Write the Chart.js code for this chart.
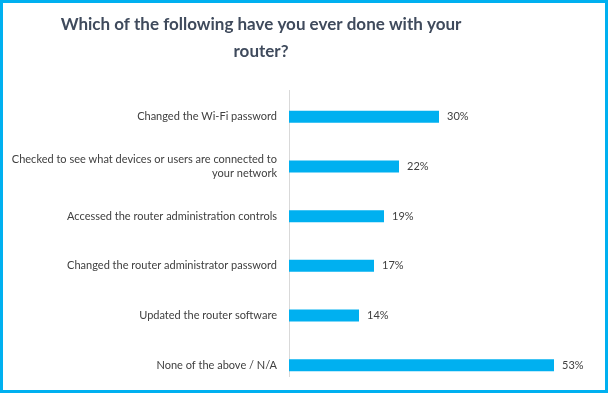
<!DOCTYPE html>
<html>
<head>
<meta charset="utf-8">
<script src="https://cdn.jsdelivr.net/npm/chart.js@4.4.0/dist/chart.umd.min.js"></script>
<style>
  html, body { margin: 0; padding: 0; background: #fff; }
  #wrap { position: relative; width: 608px; height: 393px; }
  canvas { display: block; }
</style>
</head>
<body>
<div id="wrap"><canvas id="c" width="608" height="393"></canvas></div>
<script>
const titleLines = ['Which of the following have you ever done with your', 'router?'];
const categories = [
  'Changed the Wi-Fi password',
  ['Checked to see what devices or users are connected to', 'your network'],
  'Accessed the router administration controls',
  'Changed the router administrator password',
  'Updated the router software',
  'None of the above / N/A'
];
const percentValues = [30, 22, 19, 17, 14, 53];

const extras = {
  id: 'extras',
  beforeDatasetsDraw(chart) {
    const ctx = chart.ctx, a = chart.chartArea;
    ctx.save();
    ctx.strokeStyle = '#D9D9D9';
    ctx.lineWidth = 1;
    ctx.beginPath();
    ctx.moveTo(a.left + 0.5, a.top - 2);
    ctx.lineTo(a.left + 0.5, a.bottom - 13);
    ctx.stroke();
    ctx.restore();
  },
  afterDatasetsDraw(chart) {
    const ctx = chart.ctx;
    const meta = chart.getDatasetMeta(0);
    ctx.save();
    ctx.font = '11px Lato';
    ctx.fillStyle = '#404040';
    ctx.textAlign = 'left';
    ctx.textBaseline = 'middle';
    meta.data.forEach((el, i) => {
      ctx.fillText(percentValues[i] + '%', el.x + 8, el.y);
    });
    ctx.restore();
  },
  afterDraw(chart) {
    const ctx = chart.ctx;
    ctx.save();
    ctx.fillStyle = '#3F4A5C';
    ctx.font = 'bold 17px Lato';
    ctx.textAlign = 'center';
    ctx.textBaseline = 'middle';
    ctx.fillText(titleLines[0], 261, 25);
    ctx.fillText(titleLines[1], 261, 52);
    ctx.strokeStyle = '#00B0F0';
    ctx.lineWidth = 3;
    ctx.strokeRect(1.5, 1.5, chart.width - 3, chart.height - 3);
    ctx.restore();
  }
};

new Chart(document.getElementById('c'), {
  type: 'bar',
  data: {
    labels: categories,
    datasets: [{
      data: percentValues,
      backgroundColor: '#00B0F0',
      borderWidth: 0,
      categoryPercentage: 1,
      barPercentage: 0.24
    }]
  },
  options: {
    indexAxis: 'y',
    responsive: false,
    animation: false,
    layout: { padding: { top: 92, bottom: 3, left: 0, right: 19 } },
    plugins: {
      legend: { display: false },
      tooltip: { enabled: false },
      title: { display: false }
    },
    scales: {
      x: { display: false, min: 0, max: 60 },
      y: {
        grid: { display: false, drawTicks: false },
        border: { display: false },
        ticks: {
          color: '#404040',
          padding: 12,
          font: { family: 'Lato', size: 11, lineHeight: 1.3 }
        },
        afterFit(scale) {
          scale.width = 289;
          scale.paddingTop = 0;
          scale.paddingBottom = 0;
        }
      }
    }
  },
  plugins: [extras]
});
</script>
</body>
</html>
